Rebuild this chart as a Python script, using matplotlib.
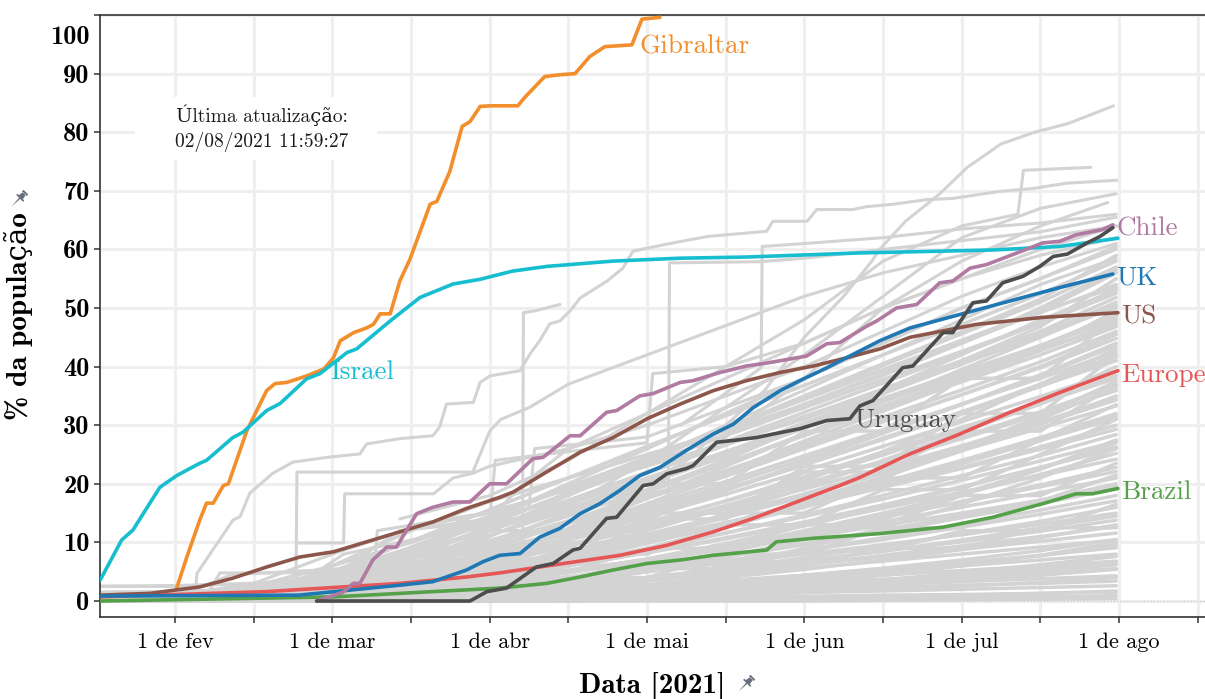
import numpy as np
import matplotlib
matplotlib.use("Agg")
import matplotlib.pyplot as plt
from matplotlib.path import Path
from matplotlib.patches import Rectangle
from matplotlib.transforms import Affine2D, ScaledTranslation

nan = np.nan

plt.rcParams['font.family'] = ['cmr10', 'DejaVu Serif']
plt.rcParams['axes.unicode_minus'] = False
BOLD = ['cmb10', 'DejaVu Serif']

# x axis is days counted from 1 Feb 2021
X_MAJOR = [0, 28, 56, 84, 112, 140, 168]
X_MINOR = [14, 42, 70, 98, 126, 154, 182]
X_LABELS = ['1 de fev', '1 de mar', '1 de abr', '1 de mai', '1 de jun', '1 de jul', '1 de ago']
Y_TICKS = [0, 10, 20, 30, 40, 50, 60, 70, 80, 90, 100]

# highlighted series: (day, % of population vaccinated)
GIBRALTAR_DAYS = [0.3, 2.1, 4.4, 5.6, 6.8, 8.6, 9.5, 12.8, 16.3, 17.8, 19.9, 23.4, 26.5, 28.2,
                  29.4, 31.8, 34.1, 35.3, 36.5, 38.3, 40, 41.8, 43.6, 45.4, 46.6, 48.9, 51.1,
                  52.5, 54.3, 56, 61, 62.3, 65.8, 68.5, 71.2, 73.8, 76.5, 81.3, 83.1, 86.3]
GIBRALTAR_PCT = [2.2, 7.5, 13.8, 16.7, 16.7, 19.7, 20, 29.1, 35.9, 37.1, 37.3, 38.4, 39.6, 41.5,
                 44.4, 45.8, 46.6, 47.2, 49, 49, 54.6, 58.3, 63, 67.7, 68.2, 73.3, 81, 81.8,
                 84.4, 84.5, 84.5, 86, 89.5, 89.8, 90, 92.9, 94.6, 94.9, 99.3, 99.6]

ISRAEL_DAYS = [-13.3, -9.5, -7.5, -2.7, 0.3, 4.4, 5.6, 10.3, 12.1, 16.3, 18.7, 23.4, 25.8, 30.6,
               32.3, 38.3, 43.6, 49.5, 54.3, 60.1, 66.2, 77.9, 89.9, 101.8, 121.9, 145.6,
               157.5, 167.8]
ISRAEL_PCT = [3.6, 10.4, 12.1, 19.4, 21.4, 23.5, 24, 27.9, 28.8, 32.5, 33.7, 37.9, 38.8, 42.4,
              43, 47.8, 51.8, 54.1, 54.9, 56.3, 57.1, 58, 58.5, 58.7, 59.4, 59.9, 60.5, 61.9]

CHILE_DAYS = [25.2, 29.9, 31.7, 32.9, 35.2, 37.7, 39.4, 43, 45.9, 49.5, 52.5, 56, 59, 63.7,
              65.5, 70.3, 72.1, 76.8, 78.6, 82.7, 85.1, 89.9, 92.2, 97, 101.7, 104.6, 107.7,
              112.4, 116, 118.3, 123.1, 124.9, 128.4, 132, 136.1, 138.4, 141.5, 144.4, 150.4,
              154.4, 157.5, 160.4, 165.1, 166.9]
CHILE_PCT = [0, 1.5, 3, 3, 7, 9.2, 9.2, 14.9, 16, 16.9, 16.9, 20, 20, 24.3, 24.5, 28.2, 28.2,
             32.2, 32.5, 35, 35.4, 37.3, 37.6, 39, 40.1, 40.5, 41, 41.8, 43.9, 44.1, 46.9, 47.8,
             50, 50.6, 54.3, 54.6, 56.8, 57.4, 59.6, 61.1, 61.4, 62.5, 63.4, 64.2]

URUGUAY_DAYS = [25.2, 52.5, 55.5, 59, 64.3, 67.3, 70.8, 72.1, 76.8, 78.6, 83.3, 85.1, 87.5, 91,
                92.2, 96.4, 99.4, 103.5, 106.5, 111.2, 116, 120.1, 121.9, 124.2, 129.5, 131.3,
                136.7, 138.4, 142, 144.4, 147.3, 150.9, 153.9, 156.3, 158.8, 162.3, 164.6, 166.9]
URUGUAY_PCT = [0, 0, 1.6, 2.2, 5.8, 6.4, 8.7, 9, 14.1, 14.3, 19.7, 20, 21.7, 22.6, 23.1, 27.1,
               27.4, 27.9, 28.5, 29.4, 30.8, 31.1, 33.3, 34.2, 39.8, 40.1, 45.8, 45.8, 50.9,
               51.2, 54.3, 55.4, 57.1, 58.8, 59.2, 61.1, 62.2, 63.7]

UK_DAYS = [-13.3, 22, 40, 45.9, 51.9, 54.8, 57.8, 61.4, 64.9, 68.5, 72.1, 75.6, 79.2, 82.7, 86.3,
           91, 95.8, 99.4, 102.9, 107.7, 111.2, 116, 120.7, 125.4, 130.8, 139.7, 148.6, 157.5,
           166.9]
UK_PCT = [0.85, 1, 2.7, 3.3, 5.3, 6.7, 7.8, 8.1, 10.9, 12.4, 14.9, 16.6, 18.9, 21.4, 22.8, 25.7,
          28.5, 30.2, 33, 35.9, 37.6, 39.8, 42.1, 44.4, 46.6, 48.9, 51.2, 53.5, 55.8]

US_DAYS = [-13.3, -4.4, 0.3, 4.4, 10.3, 16.3, 22.2, 28.2, 34.1, 40, 45.9, 51.9, 57.8, 60.2, 66.1,
           72.1, 78, 84, 89.9, 95.8, 101.7, 107.7, 113.6, 119.5, 125.4, 130.8, 142.6, 154.4, 167.8]
US_PCT = [1, 1.3, 1.9, 2.4, 3.9, 5.8, 7.5, 8.4, 10.1, 11.8, 13.5, 15.8, 17.7, 18.6, 22, 25.4,
          27.9, 31.1, 33.6, 35.9, 37.6, 39, 40.1, 41.5, 43, 45, 47.2, 48.4, 49.2]

EUROPE_DAYS = [-13.3, 16.3, 40, 51.9, 57.8, 61.4, 69.1, 79.2, 87.5, 95.8, 102.9, 110.6, 118.3,
               121.9, 130.8, 139.7, 148.6, 157.5, 167.8]
EUROPE_PCT = [0.7, 1.6, 3, 4.1, 4.8, 5.3, 6.4, 7.8, 9.5, 11.8, 14.1, 16.9, 19.7, 21.1, 25.1,
              28.5, 32.2, 35.6, 39.3]

BRAZIL_DAYS = [-13.3, 28.2, 45.9, 57.8, 66.1, 72.1, 78, 84, 89.9, 95.8, 105.3, 107, 113.6, 125.4,
               136.7, 145.6, 154.4, 160.4, 163.3, 167.8]
BRAZIL_PCT = [0, 0.7, 1.6, 2.2, 3, 4.1, 5.3, 6.4, 7, 7.8, 8.7, 10.1, 10.7, 11.5, 12.6, 14.3,
              16.6, 18.3, 18.3, 19.2]

# all other countries, sampled every two weeks
GRAY_GRID = [-13.3, 0, 14, 28, 42, 56, 70, 84, 98, 112, 126, 140, 154, 167.5]
GRAY_ROWS = [
    [0, 0, 0, 0, 0, 0, 0, 0, 0, 0, 0.1, 0.2, 0.3, 0.4],
    [nan, nan, nan, nan, 0, 0, 0.1, 0.2, 0.3, 0.4, 0.5, 0.6, 0.7, 0.9],
    [nan, nan, 0, 0, 0.1, 0.2, 0.4, 0.5, 0.7, 0.8, 1.0, 1.1, 1.3, 1.5],
    [nan, nan, nan, 0, 0.2, 0.4, 0.6, 0.9, 1.2, 1.5, 1.7, 2.0, 2.3, 2.6],
    [0, 0, 0.1, 0.2, 0.4, 0.6, 0.9, 1.2, 1.6, 2.0, 2.3, 2.7, 3.0, 3.4],
    [nan, nan, nan, nan, nan, 0, 0.5, 1.0, 1.6, 2.2, 2.8, 3.3, 3.8, 4.3],
    [nan, nan, 0, 0.2, 0.5, 0.9, 1.4, 1.9, 2.5, 3.1, 3.7, 4.3, 4.9, 5.5],
    [nan, nan, nan, 0, 0.3, 0.8, 1.4, 2.1, 2.8, 3.6, 4.4, 5.2, 6.0, 6.8],
    [nan, 0, 0.1, 0.3, 0.6, 1.0, 1.6, 2.3, 3.1, 4.0, 5.0, 6.0, 7.0, 8.0],
    [nan, nan, nan, nan, 0, 0.5, 1.2, 2.0, 3.0, 4.0, 5.2, 6.5, 7.8, 9.1],
    [0, 0.1, 0.3, 0.6, 1.0, 1.6, 2.4, 3.4, 4.5, 5.6, 6.8, 8.0, 9.2, 10.4],
    [nan, nan, 0, 0.4, 1.0, 1.8, 2.8, 3.8, 5.0, 6.2, 7.5, 8.8, 10.2, 11.6],
    [nan, nan, nan, 0, 0.6, 1.4, 2.4, 3.6, 4.8, 6.2, 7.8, 9.4, 11.0, 12.7],
    [nan, 0, 0.2, 0.5, 1.0, 1.8, 2.8, 4.0, 5.4, 6.9, 8.5, 10.1, 11.9, 13.8],
    [nan, nan, 0, 0.6, 1.4, 2.4, 3.6, 5.0, 6.5, 8.0, 9.6, 11.3, 13.1, 15.0],
    [nan, nan, nan, nan, 0, 1.0, 2.4, 4.0, 5.6, 7.4, 9.3, 11.4, 13.6, 16.0],
    [0.5, 0.6, 0.9, 1.4, 2.1, 3.0, 4.1, 5.4, 6.9, 8.6, 10.5, 12.6, 14.8, 17.1],
    [nan, nan, 0, 0.5, 1.2, 2.2, 3.4, 5.0, 6.8, 8.7, 10.8, 13.1, 15.5, 18.0],
    [nan, nan, nan, 0, 1.0, 2.3, 3.9, 5.6, 7.5, 9.6, 11.8, 14.2, 16.6, 19.2],
    [nan, 0, 0.3, 0.8, 1.6, 2.7, 4.1, 5.8, 7.7, 9.8, 12.1, 14.6, 17.2, 20.0],
    [nan, nan, 0, 0.8, 1.9, 3.3, 4.9, 6.8, 8.9, 11.1, 13.5, 16.0, 18.5, 21.0],
    [nan, nan, nan, 0, 1.3, 2.9, 4.8, 6.9, 9.2, 11.7, 14.3, 16.9, 19.5, 22.1],
    [0, 0.2, 0.6, 1.3, 2.3, 3.6, 5.2, 7.1, 9.3, 11.7, 14.3, 17.0, 19.8, 22.8],
    [nan, nan, 0, 1.0, 2.3, 4.0, 6.0, 8.2, 10.6, 13.1, 15.8, 18.6, 21.4, 24.2],
    [nan, nan, nan, nan, 0, 1.8, 4.0, 6.5, 9.2, 12.0, 15.0, 18.2, 21.6, 25.2],
    [nan, 0, 0.4, 1.2, 2.4, 4.0, 6.0, 8.3, 10.8, 13.5, 16.4, 19.5, 22.8, 26.3],
    [nan, nan, 0, 1.0, 2.5, 4.4, 6.6, 9.0, 11.6, 14.4, 17.4, 20.6, 23.9, 27.2],
    [nan, nan, nan, 0, 1.6, 3.6, 6.0, 8.7, 11.6, 14.7, 18.0, 21.4, 24.8, 28.4],
    [1.0, 1.2, 1.8, 2.8, 4.2, 6.0, 8.2, 10.7, 13.4, 16.3, 19.4, 22.6, 25.9, 29.3],
    [nan, nan, 0, 1.2, 2.9, 5.0, 7.5, 10.2, 13.1, 16.2, 19.4, 22.8, 26.3, 30.0],
    [nan, nan, nan, 0, 2.0, 4.3, 7.0, 10.0, 13.2, 16.6, 20.1, 23.7, 27.4, 31.2],
    [nan, 0, 0.5, 1.5, 3.0, 5.0, 7.4, 10.2, 13.3, 16.7, 20.3, 24.0, 27.9, 32.0],
    [nan, nan, 0, 1.5, 3.4, 5.7, 8.4, 11.4, 14.7, 18.2, 21.9, 25.7, 29.5, 33.3],
    [nan, nan, nan, 0, 2.2, 4.8, 7.8, 11.1, 14.6, 18.3, 22.2, 26.2, 30.2, 34.3],
    [0.5, 0.8, 1.6, 3.0, 4.8, 7.0, 9.6, 12.5, 15.7, 19.1, 22.7, 26.5, 30.5, 34.8],
    [nan, nan, 0, 1.6, 3.8, 6.4, 9.4, 12.6, 16.1, 19.8, 23.7, 27.7, 31.8, 35.9],
    [nan, 0, 0.8, 2.2, 4.2, 6.7, 9.6, 12.8, 16.3, 20.0, 23.9, 28.0, 32.3, 36.8],
    [nan, nan, nan, 0, 2.8, 6.0, 9.5, 13.2, 17.1, 21.2, 25.4, 29.6, 33.8, 38.0],
    [nan, nan, 0, 2.0, 4.5, 7.5, 10.8, 14.4, 18.2, 22.2, 26.4, 30.6, 34.9, 39.2],
    [2.5, 2.6, 3.0, 4.0, 5.6, 7.8, 10.4, 13.5, 17.0, 20.8, 24.9, 29.3, 34.0, 40.0],
    [nan, nan, nan, 0, 3.0, 6.6, 10.5, 14.6, 18.9, 23.3, 27.8, 32.3, 36.7, 41.0],
    [nan, 0, 1.0, 2.8, 5.2, 8.2, 11.6, 15.3, 19.2, 23.3, 27.6, 32.0, 36.6, 41.6],
    [nan, nan, 0, 2.2, 5.0, 8.4, 12.2, 16.2, 20.4, 24.8, 29.2, 33.6, 38.0, 42.5],
    [nan, nan, nan, nan, 0, 4.5, 9.2, 14.0, 18.8, 23.7, 28.6, 33.5, 38.5, 43.5],
    [0.2, 0.5, 1.4, 3.0, 5.3, 8.2, 11.7, 15.6, 19.8, 24.2, 28.8, 33.6, 38.6, 44.0],
    [nan, nan, 0, 2.5, 5.6, 9.2, 13.2, 17.5, 21.9, 26.4, 30.8, 35.2, 39.8, 44.8],
    [nan, nan, nan, 0, 3.6, 7.6, 12.0, 16.6, 21.3, 26.0, 30.6, 35.2, 40.0, 45.5],
    [nan, 0, 1.2, 3.4, 6.3, 9.8, 13.7, 17.9, 22.3, 26.8, 31.4, 36.0, 40.8, 46.0],
    [nan, nan, 0, 3.0, 6.4, 10.3, 14.5, 19.0, 23.6, 28.2, 32.8, 37.4, 42.0, 46.8],
    [nan, nan, nan, 0, 4.2, 8.7, 13.5, 18.5, 23.5, 28.5, 33.3, 38.0, 42.7, 47.5],
    [nan, nan, 0, 3.2, 7.0, 11.2, 15.8, 20.5, 25.3, 30.0, 34.6, 39.1, 43.6, 48.2],
    [nan, 0, 1.5, 4.0, 7.3, 11.2, 15.5, 20.0, 24.7, 29.5, 34.2, 38.8, 43.6, 48.8],
    [nan, nan, nan, nan, 0, 5.5, 11.0, 16.5, 22.0, 27.3, 32.4, 37.5, 42.8, 49.5],
    [nan, nan, 0, 3.6, 7.8, 12.4, 17.2, 22.0, 26.8, 31.5, 36.0, 40.6, 45.2, 50.2],
    [nan, nan, nan, 0, 4.8, 9.8, 15.0, 20.2, 25.4, 30.4, 35.4, 40.4, 45.4, 51.0],
    [nan, 0, 1.8, 4.6, 8.2, 12.4, 17.0, 21.8, 26.6, 31.4, 36.2, 41.0, 46.0, 51.8],
    [nan, nan, 0, 4.0, 8.6, 13.4, 18.4, 23.4, 28.2, 33.0, 37.8, 42.6, 47.4, 52.5],
    [nan, nan, nan, 0, 5.4, 11.0, 16.6, 22.0, 27.2, 32.2, 37.2, 42.2, 47.4, 53.2],
    [nan, nan, 0, 4.4, 9.2, 14.2, 19.3, 24.4, 29.4, 34.4, 39.4, 44.4, 49.2, 54.0],
    [nan, nan, nan, nan, 0, 6.2, 12.4, 18.4, 24.2, 29.8, 35.4, 41.0, 46.8, 55.0],
    [nan, 0, 2.0, 5.2, 9.0, 13.4, 18.2, 23.2, 28.4, 33.6, 38.8, 44.0, 49.4, 56.0],
    [nan, nan, nan, 0, 6.0, 12.0, 18.0, 23.8, 29.4, 34.8, 40.2, 45.6, 51.0, 57.0],
    [nan, nan, 0, 5.0, 10.2, 15.6, 21.0, 26.4, 31.6, 36.8, 42.0, 47.2, 52.4, 58.0],
    [0, 0, 0.2, 0.5, 0.9, 1.4, 2.0, 2.7, 3.5, 4.4, 5.4, 6.5, 7.7, 9.5],
    [nan, nan, nan, nan, nan, nan, 0, 0.8, 1.8, 3.0, 4.4, 6.0, 7.8, 10.0],
    [nan, 0, 0.5, 0.5, 1.5, 1.5, 3.5, 3.5, 6.0, 6.0, 9.0, 9.0, 12.5, 12.5],
    [nan, nan, 0, 1.0, 1.0, 3.0, 3.0, 5.5, 5.5, 8.5, 8.5, 12.0, 12.0, 16.5],
    [0.3, 0.3, 0.8, 1.5, 2.5, 3.8, 5.3, 7.0, 8.8, 10.8, 12.9, 15.0, 17.2, 19.5],
    [nan, nan, nan, nan, 0, 2.0, 4.0, 4.0, 8.0, 8.0, 12.5, 12.5, 17.0, 21.5],
    [nan, nan, 0, 2.5, 2.5, 5.0, 5.0, 9.0, 9.0, 13.0, 13.0, 18.0, 18.0, 23.5],
    [nan, 0, 0.2, 0.8, 1.8, 3.2, 5.0, 7.2, 9.8, 12.8, 16.0, 19.4, 22.8, 26.0],
    [nan, nan, nan, 0, 0.5, 1.5, 3.0, 5.0, 7.5, 10.5, 14.0, 18.0, 22.5, 27.5],
    [nan, nan, nan, nan, nan, 0, 1.5, 3.5, 6.0, 9.0, 12.5, 16.5, 21.0, 26.0],
    [1.5, 1.6, 2.0, 2.8, 4.0, 5.6, 7.6, 10.0, 12.8, 16.0, 19.6, 23.4, 27.4, 31.6],
    [nan, nan, 0, 0.3, 1.0, 2.2, 3.8, 5.8, 8.3, 11.2, 14.5, 18.3, 22.5, 27.0],
    [nan, nan, nan, 0, 3.5, 3.5, 8.0, 8.0, 13.0, 13.0, 19.0, 19.0, 25.0, 31.0],
    [nan, 0, 3.0, 3.0, 6.0, 6.0, 10.0, 10.0, 15.0, 15.0, 21.0, 21.0, 27.5, 33.5],
    [nan, nan, 0, 0.8, 2.2, 4.2, 6.8, 9.8, 13.2, 17.0, 21.2, 25.6, 30.2, 35.0],
    [nan, nan, nan, nan, 0, 3.0, 6.5, 10.5, 14.8, 19.3, 24.0, 28.8, 33.6, 38.5],
    [0, 0.3, 1.0, 2.2, 3.8, 5.8, 8.2, 11.0, 14.2, 17.8, 21.8, 26.2, 31.0, 36.5],
    [nan, nan, 0, 4.0, 4.0, 9.0, 9.0, 15.0, 15.0, 22.0, 22.0, 29.0, 29.0, 37.0],
    [nan, nan, nan, 0, 1.5, 3.5, 6.0, 9.0, 12.5, 16.5, 21.0, 26.0, 31.5, 37.5],
    [nan, 0, 1.2, 3.0, 5.4, 8.2, 11.4, 15.0, 19.0, 23.2, 27.6, 32.2, 37.0, 42.0],
    [nan, nan, 0, 1.0, 3.0, 5.5, 8.5, 12.0, 16.0, 20.5, 25.5, 31.0, 37.0, 43.0],
    [nan, nan, nan, nan, 0, 6.0, 6.0, 14.0, 14.0, 23.0, 23.0, 32.0, 32.0, 42.0],
    [nan, nan, nan, 0, 5.0, 10.0, 15.0, 20.0, 25.0, 29.5, 34.0, 38.5, 43.0, 47.0],
    [0, 0.5, 2.0, 4.5, 8.0, 12.0, 16.5, 21.0, 25.5, 30.0, 34.5, 39.0, 43.5, 48.0],
    [nan, nan, 0, 5.0, 5.0, 12.0, 12.0, 20.0, 20.0, 29.0, 29.0, 38.0, 38.0, 48.5],
    [nan, nan, nan, 0, 3.0, 7.0, 12.0, 17.5, 23.0, 28.5, 34.0, 39.5, 45.0, 50.5],
    [nan, 0, 2.5, 6.0, 10.0, 14.5, 19.5, 24.5, 29.5, 34.5, 39.5, 44.5, 49.5, 53.5],
    [nan, nan, 0, 6.0, 12.0, 17.0, 21.0, 25.0, 29.0, 33.5, 38.5, 44.0, 50.0, 56.5],
    [nan, nan, nan, 0, 7.0, 13.0, 18.5, 24.0, 29.5, 35.0, 40.5, 46.0, 51.5, 59.0],
    [nan, nan, 0, 3.0, 8.0, 14.0, 20.0, 26.0, 32.0, 38.0, 44.0, 50.0, 55.0, 60.5],
    [nan, 0, 0.1, 0.2, 0.4, 0.7, 1.0, 1.4, 1.9, 2.5, 3.2, 4.0, 5.0, 6.2],
    [nan, nan, nan, nan, 0, 0.3, 0.7, 1.2, 1.8, 2.6, 3.6, 4.8, 6.2, 7.6],
    [0, 0, 0, 0.1, 0.2, 0.3, 0.5, 0.7, 1.0, 1.4, 1.9, 2.5, 3.2, 4.0],
    [nan, nan, 0, 0.1, 0.3, 0.6, 1.0, 1.5, 2.1, 2.8, 3.6, 4.5, 5.5, 6.6],
    [nan, nan, nan, 0, 0.1, 0.3, 0.6, 1.0, 1.5, 2.1, 2.8, 3.6, 4.5, 5.5],
    [0, 0, 0, 0, 0, 0, 0.1, 0.2, 0.4, 0.6, 0.8, 1.0, 1.3, 1.7],
    [nan, nan, nan, nan, 0, 0.2, 0.5, 0.9, 1.4, 2.0, 2.7, 3.5, 4.4, 5.4],
    [nan, nan, 0, 0.2, 0.5, 1.0, 1.6, 2.4, 3.3, 4.4, 5.6, 7.0, 8.6, 10.5],
    [nan, 0, 0.3, 0.7, 1.3, 2.0, 2.9, 4.0, 5.3, 6.8, 8.5, 10.4, 12.5, 14.5],
    [nan, nan, nan, 0, 0.4, 1.0, 1.8, 2.8, 4.0, 5.4, 7.0, 8.8, 10.8, 13.0],
]

# countries with irregular reporting (steps and late starts)
GRAY_STEPS = [
    ([84, 98, 105, 112, 119, 124, 125.4, 130, 136, 141, 147, 153, 159, 163, 167],
     [18, 30, 36, 45, 52, 58, 60, 64.8, 69.4, 74, 78, 80, 81.5, 83, 84.5]),
    ([3.5, 3.9, 10.3, 11.6, 13.3, 17.4, 21, 27, 32.9, 34.1, 40, 45.9, 47.1, 48.3, 53.1, 54.3,
      56, 61.4, 63.2, 64.9, 66.7, 68.5, 70.3, 72.1, 76.9, 79.7, 81.5, 87.5, 94.7, 105.3, 106.4,
      112.5, 114.2, 120.6, 123.1, 127.8, 133.8, 138.4, 146.8, 152.7, 158.7, 167.6],
     [0, 4.7, 13.8, 14.4, 18.4, 21.8, 23.7, 24.5, 25.1, 26.8, 27.7, 28.2, 29.7, 33.6, 33.9,
      37.3, 38.4, 39.3, 42.2, 44.4, 47.3, 47.8, 49.5, 51.7, 54.6, 56.8, 59.7, 60.9, 62.2, 63.1,
      64.8, 64.8, 66.8, 66.8, 67.3, 67.7, 68.5, 68.7, 69.9, 70.4, 71.3, 71.8]),
    ([40, 56, 70, 84, 98, 112, 126, 140, 150, 151, 163],
     [14, 18, 24, 32, 40, 48, 58, 64, 66, 73.5, 74]),
    ([70, 84, 98, 112, 126, 140, 154, 167.5], [16, 24, 33, 42, 52, 62, 67, 69.5]),
    ([84, 98, 112, 126, 140, 154, 166], [20, 28, 38, 50, 58, 64, 68]),
    ([-13.3, 5, 10, 20, 30, 40, 50, 56, 62, 70, 84, 98, 112, 126, 140, 154, 167.5],
     [2.5, 2.5, 4.5, 5, 5.5, 12, 13, 14, 20, 26, 32, 38, 44, 50, 55, 60, 64]),
    ([21.5, 21.7, 53, 56, 58, 63, 70, 84, 98, 112, 126, 140, 154, 167.5],
     [0, 22, 22, 29, 31, 33, 37, 42, 47, 52, 56, 59, 62, 64]),
    ([22, 30, 30.2, 46, 49.5, 53, 56, 70, 84, 98, 112, 126, 140, 154, 167.5],
     [9.9, 9.9, 18.3, 18.3, 21, 21.8, 23, 26, 30, 35, 40, 46, 52, 57, 61]),
    ([61.8, 62, 64, 68.5], [0, 49.2, 49.5, 50.6]),
    ([87.8, 88, 104, 112, 126, 140, 154, 167.5], [18, 57.7, 57.9, 58.5, 60, 61.5, 63, 65.5]),
    ([90, 104.3, 104.5, 112, 126, 140, 154, 167.5], [30, 39.8, 60.5, 61, 62, 63.5, 64.5, 66]),
    ([40, 56, 57, 70, 84, 85, 98, 112, 126, 140, 154, 167.5],
     [12, 14, 24, 25.5, 27, 38.8, 40, 44, 50, 55, 59, 62]),
    ([28, 42, 56, 63, 64, 84, 98, 112, 126, 140, 154, 167.5],
     [4, 8, 14, 16, 26, 28, 33, 38, 44, 50, 55, 60]),
    ([0, 14, 28, 42, 56, 70, 84, 98, 112, 126, 140, 154, 167.5],
     [1, 3, 8, 12.5, 15, 19, 24, 30, 36, 42, 48, 54, 58.5]),
    ([5, 8, 25, 30, 45, 55, 70, 84, 98, 112, 126, 140, 154, 167.5],
     [0, 4.8, 4.8, 8, 11, 13, 16, 19, 24, 30, 36, 42, 48, 53]),
    ([35, 36, 55, 70, 84, 98, 112, 126, 140, 154, 167.5],
     [0, 12, 15, 19, 23, 27, 31, 36, 41, 46, 50]),
]

fig = plt.figure(figsize=(12.05, 6.99), dpi=100)
ax = fig.add_axes([100 / 1205, 82 / 699, 1105 / 1205, 602 / 699])

for row in GRAY_ROWS:
    ax.plot(GRAY_GRID, row, color='#d3d3d3', lw=2.5, solid_capstyle='round', zorder=2)
for days, vals in GRAY_STEPS:
    ax.plot(days, vals, color='#d3d3d3', lw=2.2, solid_capstyle='round', zorder=2)

ax.axhline(0, color='#c8c8c8', lw=0.8, ls=(0, (1, 2)), zorder=1)

series = [
    (GIBRALTAR_DAYS, GIBRALTAR_PCT, '#f28e2b'),
    (ISRAEL_DAYS, ISRAEL_PCT, '#17becf'),
    (BRAZIL_DAYS, BRAZIL_PCT, '#55a14a'),
    (EUROPE_DAYS, EUROPE_PCT, '#e45756'),
    (US_DAYS, US_PCT, '#8c564b'),
    (UK_DAYS, UK_PCT, '#1f77b4'),
    (CHILE_DAYS, CHILE_PCT, '#b07aa1'),
    (URUGUAY_DAYS, URUGUAY_PCT, '#4d4d4d'),
]
for days, vals, col in series:
    ax.plot(days, vals, color=col, lw=2.6, solid_capstyle='round', zorder=3)

# series names at line ends
label_kw = dict(fontsize=19.5, va='center', ha='left', zorder=5)
for name, days, vals, col in [('Chile', CHILE_DAYS, CHILE_PCT, '#b07aa1'),
                              ('UK', UK_DAYS, UK_PCT, '#1f77b4'),
                              ('US', US_DAYS, US_PCT, '#8c564b'),
                              ('Europe', EUROPE_DAYS, EUROPE_PCT, '#e45756'),
                              ('Brazil', BRAZIL_DAYS, BRAZIL_PCT, '#55a14a')]:
    ax.text(days[-1] + 0.6, vals[-1] - 0.7, name, color=col, **label_kw)
ax.text(27.6, 39, 'Israel', color='#17becf', **label_kw)
ax.text(82.7, 94.6, 'Gibraltar', color='#f28e2b', **label_kw)
ax.text(120.8, 30.8, 'Uruguay', color='#4d4d4d', **label_kw)

# update stamp on a white box
ax.add_patch(Rectangle((35 / 1105, 457 / 602), 242 / 1105, 63 / 602, transform=ax.transAxes,
                       facecolor='white', edgecolor='none', zorder=1.5))
ax.text(0.1466, 0.812, 'Última atualização:\n02/08/2021 11:59:27', transform=ax.transAxes,
        ha='center', va='center', fontsize=14, linespacing=1.35, color='#1a1a1a', zorder=4)

ax.set_xlim(-13.35, 183.3)
ax.set_ylim(-2.73, 100)

ax.set_xticks(X_MAJOR)
ax.set_xticklabels(X_LABELS, fontsize=16)
ax.set_xticks(X_MINOR, minor=True)
ax.set_yticks(Y_TICKS)
ax.set_yticklabels([str(v) for v in Y_TICKS], fontfamily=BOLD, fontsize=19)

ax.set_axisbelow(True)
ax.grid(axis='x', which='both', color='#efefef', lw=2.3)
ax.grid(axis='y', which='major', color='#efefef', lw=2.3)

for side in ['left', 'bottom', 'top']:
    ax.spines[side].set_color('#333333')
    ax.spines[side].set_linewidth(1.2)
ax.spines['right'].set_visible(False)
ax.tick_params(axis='both', which='both', direction='out', length=4.5, width=1.1, color='#333333')
ax.tick_params(axis='x', which='both', pad=7)
ax.tick_params(axis='y', pad=3)

# keep the top label inside the figure
top_lbl = ax.yaxis.get_major_ticks()[-1].label1
top_lbl.set_transform(top_lbl.get_transform() + ScaledTranslation(0, -0.2, fig.dpi_scale_trans))

ax.set_xlabel('Data [2021]', fontfamily=BOLD, fontsize=21)
ax.set_ylabel('% da população', fontfamily=BOLD, fontsize=21)
ax.xaxis.set_label_coords(0.5, -0.091)
ax.xaxis.label.set_va('top')
ax.yaxis.set_label_coords(-0.0606, 0.5)

# small pushpin icons beside the axis titles
pin_parts = [
    [(-0.3, 0.75), (0.3, 0.75), (0.3, 0.95), (-0.3, 0.95)],
    [(-0.18, 0.75), (0.18, 0.75), (0.26, 0.3), (-0.26, 0.3)],
    [(-0.45, 0.3), (0.45, 0.3), (0.45, 0.15), (-0.45, 0.15)],
    [(-0.07, 0.15), (0.07, 0.15), (0.0, -0.9)],
]
pin = Path.make_compound_path(*[Path(p + [p[0]], closed=True) for p in pin_parts])
pin = pin.transformed(Affine2D().rotate_deg(-45))
for px, py in [(745, 684), (18, 199)]:
    fig.add_artist(plt.Line2D([px / 1205], [1 - py / 699], transform=fig.transFigure,
                              marker=pin, markersize=14, color='#66707c',
                              markeredgewidth=0, linestyle='none'))

fig.savefig('out.png', dpi=100)
